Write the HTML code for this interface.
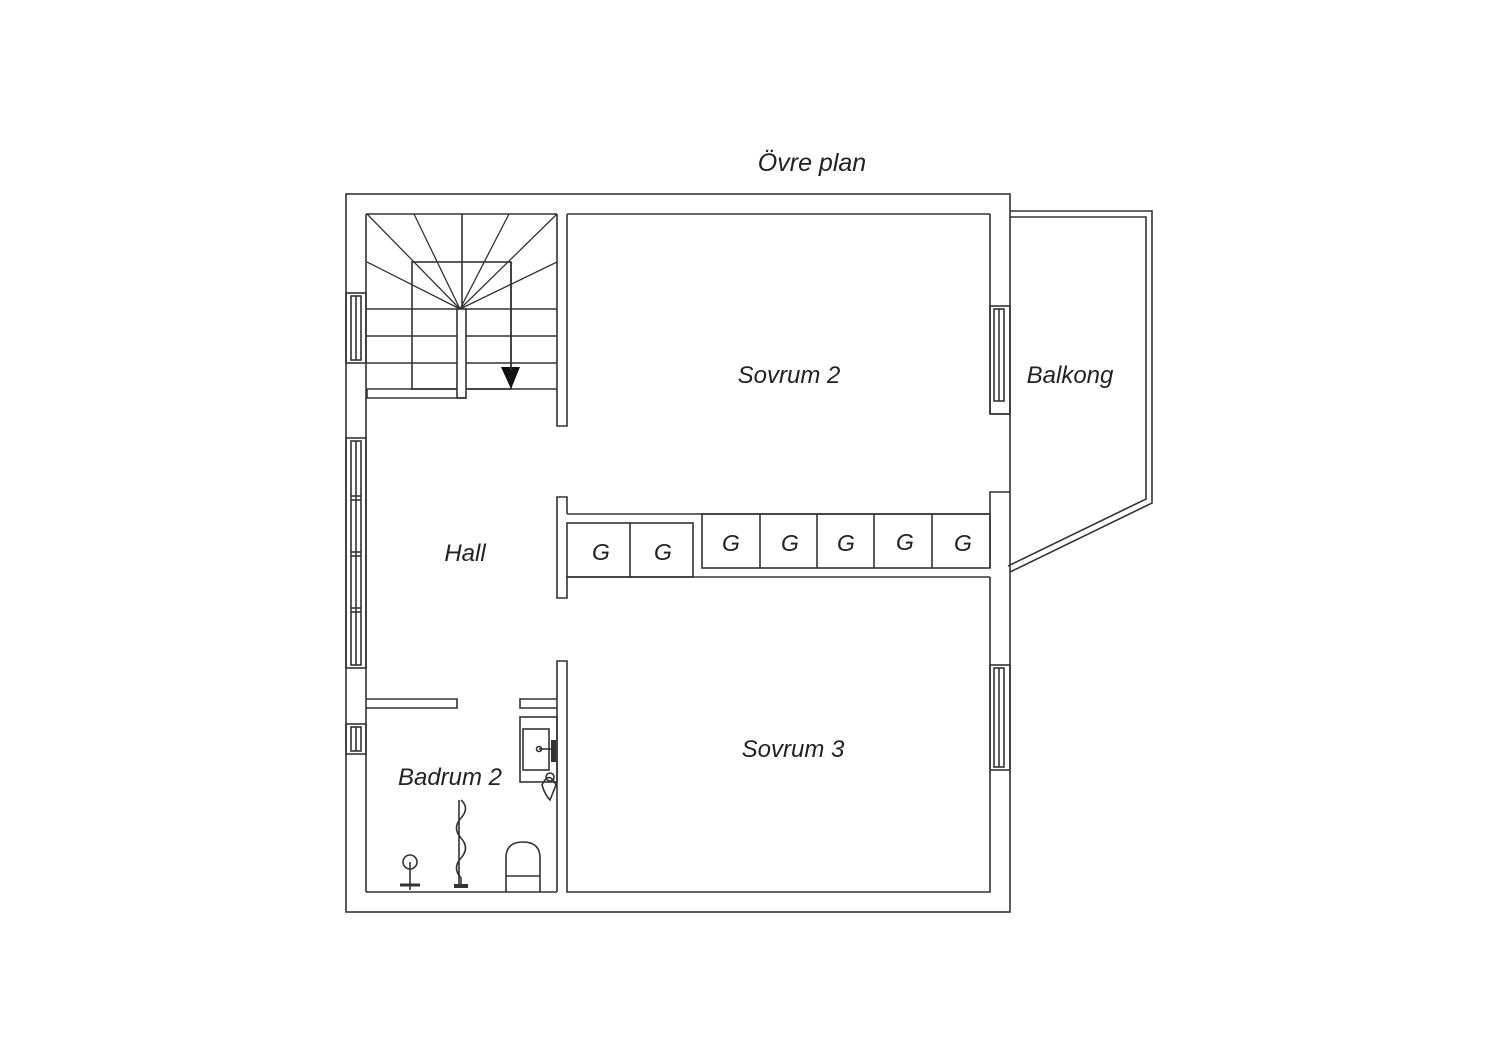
<!DOCTYPE html>
<html><head><meta charset="utf-8"><style>
html,body{margin:0;padding:0;background:#fff;}
svg{display:block;}
text{font-family:"Liberation Sans",sans-serif;font-style:italic;fill:#222;}
</style></head><body>
<svg width="1500" height="1060" viewBox="0 0 1500 1060" xmlns="http://www.w3.org/2000/svg">
<g fill="none" stroke="#333" stroke-width="1.6">
<!-- outer wall -->
<rect x="346" y="194" width="664" height="718"/>
<!-- inner left wall line -->
<line x1="366" y1="214" x2="366" y2="892"/>
<line x1="366" y1="214" x2="557" y2="214"/>
<line x1="366" y1="892" x2="557" y2="892"/>
<!-- stair/sovrum2 partition -->
<polyline points="557,214 557,426 567,426 567,214"/>
<line x1="567" y1="214" x2="990" y2="214"/>
<!-- right wall sovrum2 -->
<polyline points="990,214 990,414 1010,414"/>
<polyline points="1010,492 990,492 990,514"/>
<!-- corridor T wall -->
<polyline points="567,514 567,497 557,497 557,598 567,598 567,577 693,577"/>
<line x1="567" y1="514" x2="990" y2="514"/>
<rect x="567" y="523" width="126" height="54"/>
<line x1="630" y1="523" x2="630" y2="577"/>
<rect x="702" y="514" width="288" height="54"/>
<line x1="760" y1="514" x2="760" y2="568"/>
<line x1="817" y1="514" x2="817" y2="568"/>
<line x1="874" y1="514" x2="874" y2="568"/>
<line x1="932" y1="514" x2="932" y2="568"/>
<line x1="693" y1="577" x2="990" y2="577"/>
<line x1="990" y1="514" x2="990" y2="568"/>
<!-- sovrum3 -->
<polyline points="990,577 990,892 567,892 567,661 557,661 557,892"/>
<!-- bath partitions -->
<polyline points="366,699 457,699 457,708 366,708"/>
<polyline points="557,699 520,699 520,708 557,708"/>
<!-- windows -->
<rect x="346" y="293" width="20" height="70"/>
<rect x="351" y="296" width="10" height="64"/>
<line x1="356" y1="296" x2="356" y2="360"/>
<rect x="346" y="438" width="20" height="230"/>
<rect x="351" y="441" width="10" height="224"/>
<line x1="356" y1="441" x2="356" y2="665"/>
<line x1="351" y1="496" x2="361" y2="496"/><line x1="351" y1="500" x2="361" y2="500"/>
<line x1="351" y1="552" x2="361" y2="552"/><line x1="351" y1="556" x2="361" y2="556"/>
<line x1="351" y1="608" x2="361" y2="608"/><line x1="351" y1="612" x2="361" y2="612"/>
<rect x="346" y="724" width="20" height="30"/>
<rect x="351" y="727" width="10" height="24"/>
<line x1="356" y1="727" x2="356" y2="751"/>
<rect x="990" y="306" width="20" height="108"/>
<rect x="994" y="309" width="10" height="92"/>
<line x1="999" y1="309" x2="999" y2="401"/>
<rect x="990" y="665" width="20" height="105"/>
<rect x="994" y="668" width="10" height="99"/>
<line x1="999" y1="668" x2="999" y2="767"/>
<!-- balcony -->
<polyline points="1010,211 1152,211 1152,503 1010,572"/>
<polyline points="1010,217 1146,217 1146,499 1008,566"/>
<!-- stairs -->
<rect x="412" y="262" width="99" height="127"/>
<line x1="367" y1="309" x2="557" y2="309"/>
<line x1="367" y1="336" x2="557" y2="336"/>
<line x1="367" y1="363" x2="557" y2="363"/>
<line x1="367" y1="389" x2="557" y2="389"/>
<line x1="462" y1="214" x2="462" y2="309"/>
<rect x="457" y="309" width="9" height="89" fill="#fff"/>
<polyline points="367,389 367,398 466,398"/>
<g stroke-width="1.3">
<line x1="460" y1="309" x2="367" y2="214"/>
<line x1="460" y1="309" x2="414" y2="214"/>
<line x1="460" y1="309" x2="509" y2="214"/>
<line x1="460" y1="309" x2="557" y2="214"/>
<line x1="460" y1="309" x2="367" y2="262"/>
<line x1="460" y1="309" x2="557" y2="262"/>
</g>
<!-- sink -->
<rect x="520" y="717" width="37" height="65"/>
<rect x="523" y="729" width="26" height="41"/>
<line x1="539" y1="749" x2="552" y2="749"/>
<circle cx="539" cy="749" r="2.5"/>
<path d="M542,785 Q549,770 556,785 Q552,795 550,800 Q545,795 542,785Z"/>
<circle cx="550" cy="777" r="4"/>
<!-- toilet -->
<path d="M506,892 L506,858 Q506,842 523,842 Q540,842 540,858 L540,892"/>
<line x1="506" y1="876" x2="540" y2="876"/>
<!-- radiator -->
<path d="M461,800 Q470,808 461,818 Q452,828 461,838 Q470,848 461,858 Q452,868 461,878 L461,888"/>
<line x1="459" y1="800" x2="459" y2="888"/>
<line x1="454" y1="886" x2="468" y2="886" stroke-width="4"/>
<!-- lamp -->
<circle cx="410" cy="862" r="7"/>
<line x1="410" y1="862" x2="410" y2="890"/>
<line x1="400" y1="885" x2="420" y2="885" stroke-width="3"/>
</g>
<polygon points="501,367 520,367 511,389" fill="#111"/>
<line x1="511" y1="262" x2="511" y2="370" stroke="#333" stroke-width="1.6"/>
<rect x="551" y="740" width="5" height="22" fill="#333"/>
<g font-size="25" text-anchor="middle">
<text x="812" y="171">Övre plan</text>
<text x="789" y="383" font-size="24">Sovrum 2</text>
<text x="1070" y="383" font-size="24">Balkong</text>
<text x="465" y="561" font-size="24">Hall</text>
<text x="793" y="757" font-size="24">Sovrum 3</text>
<text x="450" y="785" font-size="24">Badrum 2</text>
<g font-size="23">
<text x="601" y="560">G</text><text x="663" y="560">G</text>
<text x="731" y="551">G</text><text x="790" y="551">G</text>
<text x="846" y="551">G</text><text x="905" y="550">G</text>
<text x="963" y="551">G</text>
</g>
</g>
</svg>
</body></html>
